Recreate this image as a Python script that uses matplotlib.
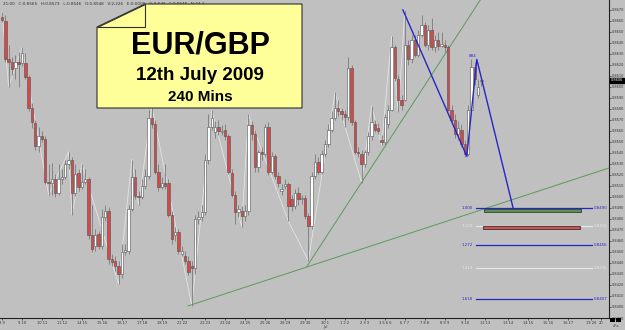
import matplotlib
matplotlib.use("Agg")
import matplotlib.pyplot as plt
import numpy as np
from matplotlib.patches import Polygon, Rectangle
from matplotlib.transforms import Affine2D

# ---- data (prices in pips, /10000) ----
opens = [8664, 8660, 8625, 8623, 8617, 8623, 8622, 8622, 8609, 8581, 8567, 8546, 8555, 8553, 8514, 8513, 8516, 8504, 8516, 8518,
         8530, 8534, 8504, 8522, 8509, 8514, 8516, 8465, 8455, 8466, 8455, 8482, 8487, 8444, 8442, 8437, 8430, 8450, 8451, 8489,
         8518, 8501, 8500, 8510, 8519, 8572, 8566, 8523, 8509, 8513, 8513, 8484, 8465, 8468, 8448, 8446, 8442, 8437, 8435, 8480,
         8482, 8486, 8534, 8564, 8559, 8564, 8559, 8561, 8555, 8522, 8502, 8486, 8487, 8483, 8487, 8565, 8557, 8527, 8541, 8539,
         8564, 8523, 8537, 8519, 8505, 8510, 8512, 8498, 8492, 8504, 8498, 8499, 8483, 8474, 8519, 8532, 8523, 8539, 8548, 8561,
         8572, 8581, 8578, 8575, 8573, 8617, 8568, 8541, 8539, 8530, 8541, 8555, 8566, 8563, 8552, 8550, 8566, 8579, 8636, 8607,
         8588, 8588, 8638, 8625, 8643, 8629, 8647, 8656, 8638, 8652, 8636, 8643, 8637, 8638, 8636, 8579, 8570, 8557, 8561, 8548,
         8539, 8579, 8618, 8593, 8605]
closes = [8661, 8625, 8623, 8616, 8623, 8621, 8631, 8609, 8581, 8568, 8546, 8555, 8553, 8514, 8513, 8516, 8504, 8516, 8518, 8530,
          8534, 8504, 8521, 8509, 8514, 8516, 8465, 8453, 8465, 8455, 8482, 8487, 8444, 8441, 8437, 8430, 8450, 8452, 8489, 8518,
          8501, 8500, 8510, 8519, 8572, 8566, 8523, 8509, 8513, 8510, 8484, 8462, 8468, 8451, 8451, 8442, 8432, 8435, 8480, 8482,
          8486, 8534, 8564, 8572, 8564, 8560, 8560, 8555, 8523, 8502, 8486, 8489, 8483, 8487, 8565, 8557, 8527, 8541, 8539, 8564,
          8523, 8537, 8519, 8513, 8507, 8512, 8492, 8492, 8504, 8498, 8499, 8483, 8474, 8519, 8532, 8523, 8539, 8548, 8561, 8572,
          8581, 8578, 8575, 8573, 8617, 8568, 8541, 8540, 8530, 8541, 8555, 8568, 8561, 8560, 8550, 8573, 8579, 8636, 8608, 8588,
          8584, 8638, 8625, 8643, 8629, 8647, 8656, 8638, 8652, 8636, 8643, 8637, 8639, 8636, 8579, 8570, 8557, 8563, 8548, 8539,
          8579, 8618, 8607, 8600, 8606]
highs = [8668, 8665, 8638, 8627, 8629, 8632, 8636, 8631, 8611, 8585, 8570, 8564, 8560, 8555, 8530, 8531, 8521, 8530, 8525, 8534,
         8541, 8536, 8530, 8525, 8530, 8525, 8518, 8493, 8471, 8469, 8489, 8493, 8491, 8448, 8446, 8442, 8457, 8457, 8493, 8534,
         8525, 8505, 8516, 8525, 8579, 8582, 8570, 8530, 8518, 8530, 8516, 8487, 8473, 8471, 8455, 8451, 8446, 8442, 8484, 8487,
         8493, 8539, 8575, 8579, 8569, 8570, 8565, 8566, 8557, 8525, 8505, 8493, 8492, 8493, 8575, 8569, 8561, 8543, 8545, 8566,
         8568, 8541, 8539, 8523, 8512, 8516, 8514, 8502, 8507, 8509, 8502, 8502, 8485, 8523, 8539, 8536, 8543, 8552, 8566, 8578,
         8595, 8588, 8581, 8579, 8627, 8620, 8570, 8545, 8543, 8543, 8559, 8583, 8570, 8567, 8556, 8575, 8584, 8646, 8638, 8611,
         8593, 8670, 8643, 8647, 8647, 8652, 8665, 8659, 8656, 8663, 8647, 8650, 8650, 8643, 8638, 8584, 8575, 8569, 8566, 8552,
         8584, 8625, 8623, 8607, 8608]
lows = [8659, 8623, 8600, 8611, 8607, 8600, 8619, 8607, 8578, 8563, 8543, 8541, 8550, 8512, 8502, 8502, 8500, 8502, 8512, 8516,
        8525, 8484, 8501, 8505, 8507, 8512, 8462, 8450, 8451, 8453, 8453, 8478, 8439, 8437, 8433, 8421, 8426, 8447, 8448, 8487,
        8498, 8493, 8498, 8507, 8516, 8563, 8521, 8505, 8507, 8507, 8482, 8457, 8460, 8448, 8446, 8439, 8429, 8401, 8430, 8475,
        8478, 8484, 8530, 8561, 8554, 8556, 8556, 8552, 8521, 8500, 8475, 8482, 8473, 8478, 8484, 8552, 8523, 8523, 8534, 8536,
        8520, 8521, 8516, 8509, 8502, 8507, 8478, 8487, 8489, 8493, 8494, 8480, 8442, 8471, 8516, 8521, 8521, 8536, 8545, 8559,
        8570, 8574, 8570, 8564, 8570, 8565, 8539, 8536, 8513, 8527, 8538, 8552, 8559, 8557, 8547, 8547, 8563, 8578, 8605, 8577,
        8579, 8587, 8620, 8622, 8627, 8627, 8645, 8636, 8634, 8634, 8632, 8634, 8636, 8632, 8578, 8566, 8554, 8552, 8545, 8536,
        8537, 8578, 8602, 8590, 8601]

zigzag_x = [0, 2, 6, 14, 20, 21, 24, 35, 39, 41, 45, 57, 63, 72, 74, 86, 92, 100, 108, 111, 114, 117, 119, 121]
zigzag_p = [8668, 8600, 8636, 8502, 8541, 8484, 8530, 8421, 8534, 8493, 8582, 8401, 8579, 8473, 8575, 8478, 8442, 8595, 8513,
            8583, 8547, 8646, 8577, 8670]

blue_x = [120.4, 139.6, 142.6, 153.5]
blue_p = [8670, 8537, 8625, 8490]

trend_shallow_x = [55.9, 186]
trend_shallow_p = [8401, 8530]
trend_steep_x = [91.6, 146]
trend_steep_p = [8437, 8690]

fib_ratios = ["1.000", "1.128", "1.272", "1.413", "1.618"]
fib_prices = [0.8490, 0.8474, 0.8456, 0.8435, 0.8407]
fib_colors = ["#2626c8", "#e6e6e6", "#2626c8", "#e6e6e6", "#2626c8"]
fib_x = [142.3, 177.2]

zone_x = [144.7, 173.9]
green_zone = [0.8486, 0.8489]
red_zone = [0.8471, 0.8474]

date_pos = [0, 6, 12, 18, 24, 30, 36, 42, 48, 54, 61, 67, 73, 79, 85, 91, 97, 103, 109, 115, 121, 127, 133, 139, 145,
            152, 158, 164, 170, 177, 180]
date_labels = ["9 9", "9 10", "10 11", "11 12", "14 15", "15 16", "16 17", "17 18", "18 19", "21 22", "22 23", "23 24",
               "24 25", "25 26", "28 29", "29 30", "30 1", "1 2 2", "2 3 3", "3 5 6 6", "6 7 7", "7 8 8", "8 9 9", "9 10",
               "12 13", "13 14", "14 15", "15 16", "16 17", "19 20", "20"]

current_price = 0.8606

o = np.array(opens) / 10000
c = np.array(closes) / 10000
h = np.array(highs) / 10000
l = np.array(lows) / 10000
xs = np.arange(len(o))

BG = "#c0c0c0"
fig = plt.figure(figsize=(6.25, 3.3), dpi=100, facecolor=BG)
ax = fig.add_axes([0, 12 / 330, 609 / 625, 318 / 330], facecolor=BG)

# zigzag
ax.plot(zigzag_x, np.array(zigzag_p) / 10000, color="#e4e4e4", lw=0.6, zorder=1)

# trend lines
ax.plot(trend_shallow_x, np.array(trend_shallow_p) / 10000, color="#5a9a5a", lw=0.7, zorder=2)
ax.plot(trend_steep_x, np.array(trend_steep_p) / 10000, color="#5a9a5a", lw=0.7, zorder=2)

# candles
up = c >= o
ax.vlines(xs, l, h, color="#7a7a7a", lw=0.6, zorder=3)
body_bottom = np.minimum(o, c)
body_h = np.maximum(np.abs(c - o), 0.00006)
ax.bar(xs[up], body_h[up], bottom=body_bottom[up], width=0.72, color="#ffffff",
       edgecolor="#505050", linewidth=0.4, zorder=4)
ax.bar(xs[~up], body_h[~up], bottom=body_bottom[~up], width=0.72, color="#d84848",
       edgecolor="#505050", linewidth=0.4, zorder=4)

# blue swing line
ax.plot(blue_x, np.array(blue_p) / 10000, color="#2626c8", lw=1.0, zorder=5)
ax.text(blue_x[2] - 1.2, blue_p[2] / 10000 + 0.0001, "884", fontsize=3, color="#2626c8", ha="center", va="bottom", zorder=6)

# fib levels
for r, p, col in zip(fib_ratios, fib_prices, fib_colors):
    ax.plot(fib_x, [p, p], color=col, lw=0.9, zorder=2)
    ax.text(fib_x[0] - 0.8, p, r, fontsize=2.8, color=col, ha="right", va="center")
    ax.text(fib_x[1] + 0.4, p, f"{p:.4f}", fontsize=2.8, color=col, ha="left", va="center")

ax.add_patch(Rectangle((zone_x[0], green_zone[0]), zone_x[1] - zone_x[0], green_zone[1] - green_zone[0],
                       facecolor="#5e8f52", edgecolor="#2e4a2a", lw=0.6, zorder=3))
ax.add_patch(Rectangle((zone_x[0] - 0.3, red_zone[0]), zone_x[1] - zone_x[0], red_zone[1] - red_zone[0],
                       facecolor="#c85656", edgecolor="#4a2a2a", lw=0.6, zorder=3))

# axes
ax.set_xlim(-0.6, 182.3)
ax.set_ylim(0.8390, 0.8679)
for s in ["top", "left"]:
    ax.spines[s].set_visible(False)
for s in ["right", "bottom"]:
    ax.spines[s].set_color("#202020")
    ax.spines[s].set_linewidth(0.8)
ax.yaxis.tick_right()
yt = np.arange(8390, 8671, 10) / 10000
ax.set_yticks(yt)
ax.set_yticklabels([f"{v:.4f}" for v in yt])
ax.tick_params(axis="y", labelsize=2.5, colors="#303030", length=1.5, width=0.5, pad=0.8)
ax.set_xticks(date_pos)
ax.set_xticklabels(date_labels)
ax.tick_params(axis="x", labelsize=2.6, colors="#303030", length=1.5, width=0.5, pad=0.8)
ax.text(97, 0.8390 - 0.00062, "Jul", fontsize=2.6, color="#303030", ha="center", va="top")

# current price marker
ax.annotate(f"{current_price:.4f}", xy=(1.0, current_price), xycoords=("axes fraction", "data"),
            xytext=(1.2, 0), textcoords="offset points", fontsize=2.5, color="white", va="center", ha="left",
            bbox=dict(boxstyle="square,pad=0.15", fc="black", ec="black"), annotation_clip=False)

# pixel transform for decorations
pix = Affine2D().scale(1 / 625, -1 / 330).translate(0, 1) + fig.transFigure

fig.text(3, 4, "21:00   C:0.8565   H:0.8573   L:0.8546   O:0.8548   V:2,226   E:0.0008   G:0.8 M   C:0.8548   N:24.4",
         transform=pix, fontsize=3, color="#303030", va="center", ha="left")
fig.text(616, 326, "nFx", transform=pix, fontsize=2.6, color="#303030", va="center", ha="center")
fig.patches.append(Rectangle((610, 318), 5, 4, transform=pix, facecolor="black", edgecolor="none"))
fig.patches.append(Rectangle((616, 318), 5, 4, transform=pix, facecolor="black", edgecolor="none"))

# yellow note
note = Polygon([(97, 27), (145, 4), (302, 4), (302, 108), (97, 108)], closed=True, transform=pix,
               facecolor="#ffff99", edgecolor="#303030", lw=0.8, zorder=10)
fig.patches.append(note)
fold = Polygon([(97, 27), (145, 27), (145, 4)], closed=True, transform=pix,
               facecolor="#ffff99", edgecolor="#303030", lw=0.8, zorder=11)
fig.patches.append(fold)
fig.text(200, 45, "EUR/GBP", transform=pix, fontsize=22, fontweight="bold", family="Liberation Sans",
         ha="center", va="center", zorder=12)
fig.text(200, 75, "12th July 2009", transform=pix, fontsize=13.5, fontweight="bold", family="Liberation Sans",
         ha="center", va="center", zorder=12)
fig.text(200, 97, "240 Mins", transform=pix, fontsize=11, fontweight="bold", family="Liberation Sans",
         ha="center", va="center", zorder=12)

fig.savefig("out.png", dpi=100, facecolor=BG)
